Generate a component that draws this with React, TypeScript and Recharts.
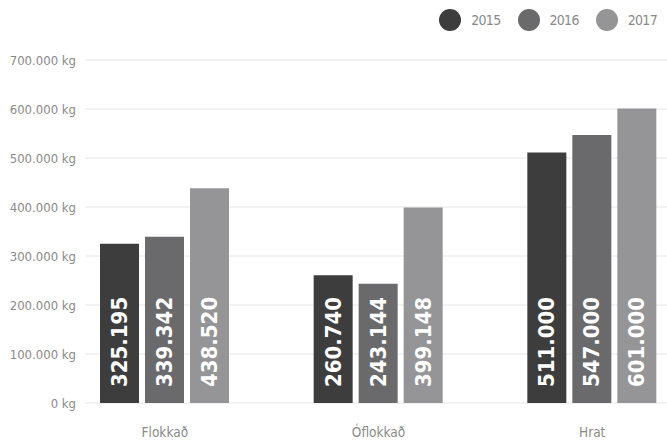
import React from 'react';
import { BarChart, Bar, XAxis, YAxis, CartesianGrid, Legend, LabelList } from 'recharts';

const categories = ['Flokkað', 'Óflokkað', 'Hrat'];
const years = ['2015', '2016', '2017'];
const values2015 = [325195, 260740, 511000];
const values2016 = [339342, 243144, 547000];
const values2017 = [438520, 399148, 601000];
const yTicks = [0, 100000, 200000, 300000, 400000, 500000, 600000, 700000];
const colors = ['#3d3d3d', '#6a6a6d', '#959598'];

const font = "'DejaVu Sans Condensed', sans-serif";

const chartData = categories.map((name, i) => ({
  name,
  '2015': values2015[i],
  '2016': values2016[i],
  '2017': values2017[i],
}));

const fmt = (v: number) => v.toLocaleString('de-DE');

const BarLabel = (props: any) => {
  const { x, y, width, height, value } = props;
  const cx = x + width / 2;
  const by = y + height - 16;
  return (
    <text
      x={cx}
      y={by}
      transform={`rotate(-90, ${cx}, ${by})`}
      textAnchor="start"
      dominantBaseline="central"
      fill="#ffffff"
      fontFamily={font}
      fontWeight="bold"
      fontSize={22}
    >
      {fmt(value)}
    </text>
  );
};

// y tick drawn as plain text so it doesn't wrap in the narrow axis
const YTick = (props: any) => {
  const { y, payload } = props;
  return (
    <text x={76} y={y} textAnchor="end" dominantBaseline="central" fill="#8a8a8a" fontSize={13} fontFamily={font}>
      {fmt(payload.value)} kg
    </text>
  );
};

const XTick = (props: any) => {
  const { x, payload } = props;
  return (
    <text x={x} y={432} textAnchor="middle" dominantBaseline="central" fill="#8a8a8a" fontSize={13.5} fontFamily={font}>
      {payload.value}
    </text>
  );
};

// grid lines start right of the tick labels, not at the plot edge
const GridLine = (props: any) => (
  <line x1={85} y1={props.y1} x2={props.x2} y2={props.y2} stroke="#e6e6e6" strokeWidth={1} />
);

const LegendContent = () => (
  <div style={{ display: 'flex', justifyContent: 'flex-end', alignItems: 'center', height: 40, paddingRight: 42, fontFamily: font }}>
    {years.map((y, i) => (
      <div key={y} style={{ display: 'flex', alignItems: 'center', marginLeft: i === 0 ? 0 : 17 }}>
        <span style={{ width: 22, height: 22, borderRadius: 11, background: colors[i], display: 'inline-block' }} />
        <span style={{ marginLeft: 10, color: '#8a8a8a', fontSize: 14, letterSpacing: -0.7 }}>{y}</span>
      </div>
    ))}
  </div>
);

const App: React.FC = () => {
  return (
    <div style={{ position: 'absolute', top: 0, left: 0, width: 667, height: 440, overflow: 'hidden' }}>
      <BarChart
        width={699}
        height={440}
        data={chartData}
        barSize={39}
        barGap={6}
        margin={{ top: 60, right: 0, left: 0, bottom: 7 }}
      >
        <CartesianGrid vertical={false} horizontal={<GridLine />} />
        <XAxis
          dataKey="name"
          axisLine={false}
          tickLine={false}
          height={30}
          tick={<XTick />}
        />
        <YAxis
          width={58}
          domain={[0, 700000]}
          ticks={yTicks}
          axisLine={false}
          tickLine={false}
          tick={<YTick />}
        />
        <Legend
          verticalAlign="middle"
          align="center"
          content={<LegendContent />}
          wrapperStyle={{ top: 0, left: 0, width: 699 }}
        />
        {years.map((y, i) => (
          <Bar key={y} dataKey={y} fill={colors[i]} isAnimationActive={false}>
            <LabelList dataKey={y} content={<BarLabel />} />
          </Bar>
        ))}
      </BarChart>
    </div>
  );
};

export default App;
